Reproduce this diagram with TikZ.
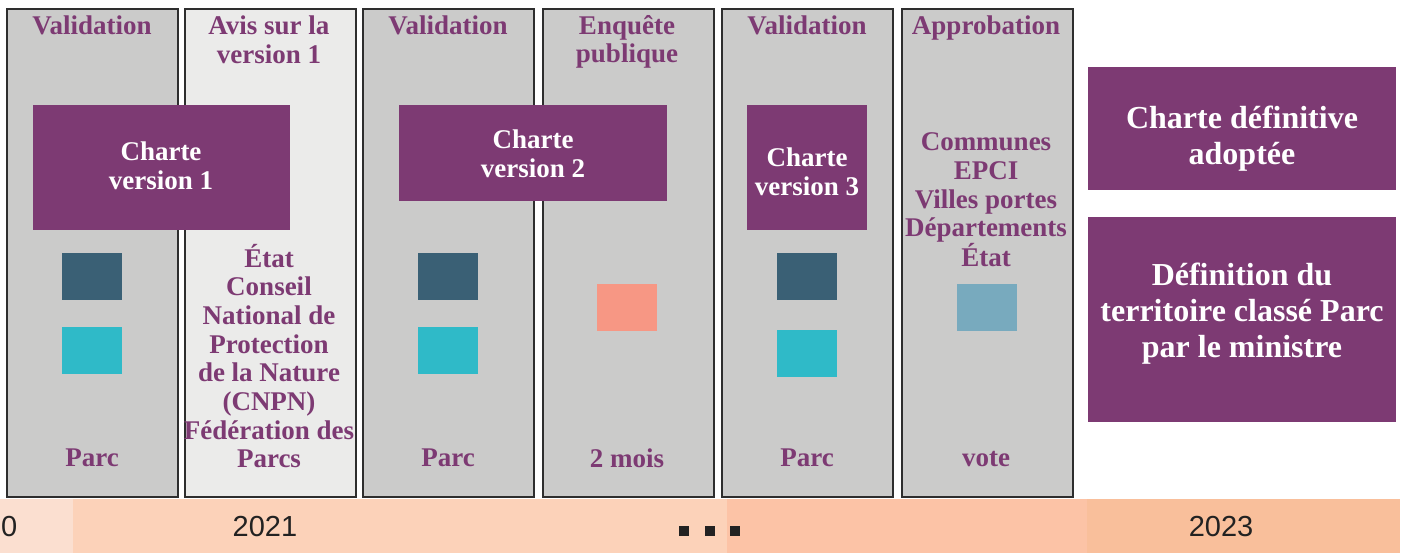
\documentclass[tikz,border=0pt]{standalone}
\usepackage{fontspec}
\setmainfont{Liberation Serif}
\setsansfont{Liberation Sans}
\definecolor{purp}{HTML}{7D3A73}
\definecolor{colgray}{HTML}{CBCBCA}
\definecolor{collight}{HTML}{EBEBEA}
\definecolor{colline}{HTML}{2E2E2E}
\definecolor{dteal}{HTML}{3A6075}
\definecolor{cyanb}{HTML}{2FBAC8}
\definecolor{salmon}{HTML}{F79784}
\definecolor{lblue}{HTML}{78AABE}
\definecolor{tlA}{HTML}{FBDFD0}
\definecolor{tlB}{HTML}{FCD2B9}
\definecolor{tlC}{HTML}{FCC3A6}
\definecolor{tlD}{HTML}{F9BF9B}
\definecolor{ink}{HTML}{222222}
\newcommand\lblfont{\fontsize{27}{28.7}\selectfont\bfseries}
\newcommand\bigfont{\fontsize{32}{36}\selectfont\bfseries}
\newcommand\yearfont{\fontsize{29}{32}\selectfont\sffamily}
\tikzset{
  colbox/.style={draw=colline, line width=2pt, fill=colgray, anchor=north west,
    minimum width=171pt, minimum height=488pt, inner sep=0pt},
  purpbox/.style={fill=purp, anchor=north west, inner sep=0pt},
  purptxt/.style={text=white, font=\lblfont, align=center, inner sep=0pt},
  bigtxt/.style={text=white, font=\bigfont, align=center, inner sep=0pt},
  sq/.style={anchor=north west, minimum width=60pt, minimum height=47pt, inner sep=0pt},
  lbl/.style={text=purp, font=\lblfont, align=center, inner sep=0pt},
  seg/.style={anchor=north west, minimum height=54pt, inner sep=0pt},
  year/.style={text=ink, font=\yearfont, inner sep=0pt},
  dot/.style={fill=ink, minimum size=10pt, inner sep=0pt}
}
\begin{document}
\begin{tikzpicture}[x=1pt,y=-1pt]
\useasboundingbox (0,0) rectangle (1405,553);
% timeline
\node[seg, fill=tlA, minimum width=73pt] (t1) at (0,499) {};
\node[seg, fill=tlB, minimum width=654pt] (t2) at (73,499) {};
\node[seg, fill=tlC, minimum width=360pt] (t3) at (727,499) {};
\node[seg, fill=tlD, minimum width=313pt] (t4) at (1087,499) {};
\node[year, anchor=west] (y0) at (1,527) {0};
\node[year] (y1) at (265,527) {2021};
\node[year] (y3) at (1221,527) {2023};
\node[dot] (d1) at (684,531) {};
\node[dot] (d2) at (710,531) {};
\node[dot] (d3) at (735,531) {};
% columns
\node[colbox] (c1) at (6,8) {};
\node[colbox, fill=collight] (c2) at (184,8) {};
\node[colbox] (c3) at (362,8) {};
\node[colbox] (c4) at (542,8) {};
\node[colbox] (c5) at (721,8) {};
\node[colbox] (c6) at (901,8) {};
% headers
\node[lbl] (h1) at (92,25) {Validation};
\node[lbl] (h2) at (269,40) {Avis sur la\\version 1};
\node[lbl] (h3) at (448,25) {Validation};
\node[lbl] (h4) at (627,42) {Enquête\\publique};
\node[lbl] (h5) at (807,25) {Validation};
\node[lbl] (h6) at (986,28) {Approbation};
% purple boxes
\node[purpbox, minimum width=257pt, minimum height=125pt] (v1) at (33,105) {};
\node[purptxt] (v1t) at (161,166) {Charte\\version 1};
\node[purpbox, minimum width=268pt, minimum height=96pt] (v2) at (399,105) {};
\node[purptxt] (v2t) at (533,154) {Charte\\version 2};
\node[purpbox, minimum width=120pt, minimum height=125pt] (v3) at (747,105) {};
\node[purptxt] (v3t) at (807,172) {Charte\\version 3};
\node[purpbox, minimum width=308pt, minimum height=123pt] (fin) at (1088,67) {};
\node[bigtxt] (fint) at (1242,139) {Charte définitive\\adoptée};
\node[purpbox, minimum width=308pt, minimum height=205pt] (def) at (1088,217) {};
\node[bigtxt] (deft) at (1242,314) {Définition du\\territoire classé Parc\\par le ministre};
% squares
\node[sq, fill=dteal] (s1a) at (62,253) {};
\node[sq, fill=cyanb] (s1b) at (62,327) {};
\node[sq, fill=dteal] (s3a) at (418,253) {};
\node[sq, fill=cyanb] (s3b) at (418,327) {};
\node[sq, fill=salmon] (s4) at (597,284) {};
\node[sq, fill=dteal] (s5a) at (777,253) {};
\node[sq, fill=cyanb] (s5b) at (777,330) {};
\node[sq, fill=lblue] (s6) at (957,284) {};
% column texts
\node[lbl] (p2) at (269,356) {État\\Conseil\\National de\\Protection\\de la Nature\\(CNPN)\\Fédération des\\Parcs};
\node[lbl] (p6) at (986,200) {Communes\\EPCI\\Villes portes\\Départements\\État};
\node[lbl] (b1) at (92,458) {Parc};
\node[lbl] (b3) at (448,458) {Parc};
\node[lbl] (b4) at (627,458) {2 mois};
\node[lbl] (b5) at (807,458) {Parc};
\node[lbl] (b6) at (986,459) {vote};
\end{tikzpicture}
\end{document}
